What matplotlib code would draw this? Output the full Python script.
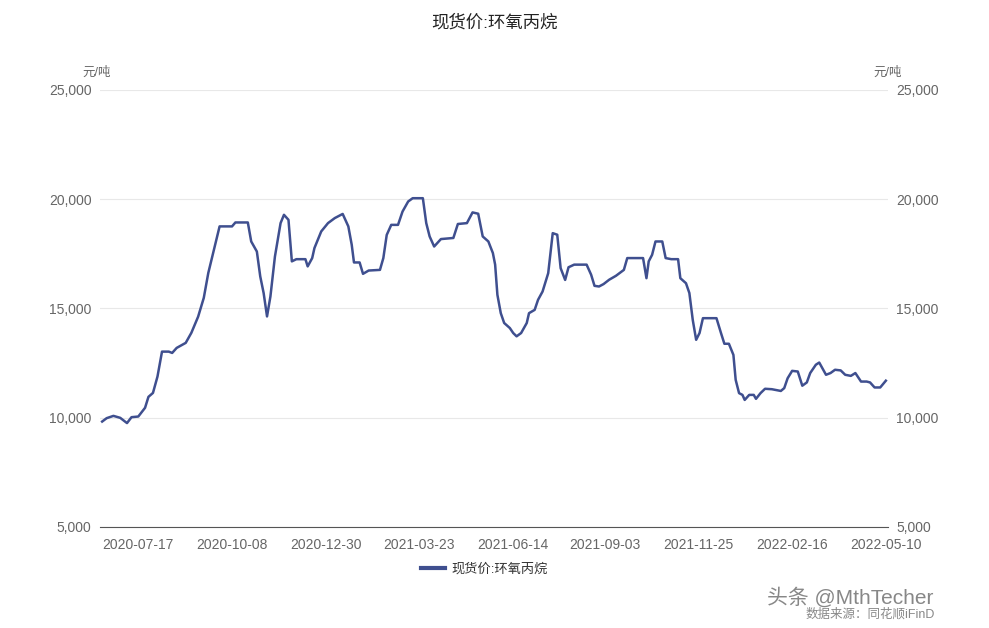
import matplotlib
matplotlib.use("Agg")
import matplotlib.pyplot as plt
import numpy as np

plt.rcParams['font.family'] = ['Liberation Sans', 'Noto Sans CJK SC', 'DejaVu Sans']

# days since 2020-07-17
day_offsets = [-32,-28,-22,-16,-10,-6,0,6,9,13,17,21,27,30,34,42,47,53,58,62,67,72,83,86,97,100,105,108,111,114,
               117,121,126,129,133,136,140,148,150,154,156,162,168,174,181,186,189,191,196,199,204,214,217,220,224,
               230,234,239,243,252,255,258,262,268,279,283,291,296,301,305,310,314,316,318,321,324,329,332,335,339,
               344,346,351,354,358,363,367,371,374,378,381,386,397,401,404,408,412,417,423,430,433,447,450,452,455,
               458,464,467,472,478,480,485,488,491,494,497,500,512,516,519,523,527,529,532,535,537,541,545,547,551,
               555,561,569,572,575,579,584,588,592,595,600,603,609,613,617,622,626,631,635,640,645,648,652,657,662]
prices = [9820,9975,10080,9990,9750,10020,10050,10450,10950,11130,11880,13020,13020,12960,13190,13420,13880,14620,15480,16620,
          17680,18750,18750,18930,18930,18060,17600,16460,15700,14630,15540,17370,18900,19280,19050,17150,17250,17250,16920,17300,
          17760,18520,18900,19130,19320,18750,17910,17100,17100,16580,16730,16760,17300,18360,18820,18820,19430,19890,20040,20040,
          18900,18290,17830,18170,18220,18860,18900,19390,19330,18290,18060,17530,17000,15620,14780,14330,14100,13870,13720,13870,
          14330,14780,14930,15390,15770,16610,18440,18370,16840,16300,16880,17000,17000,16540,16030,16000,16110,16310,16490,16760,
          17300,17300,16380,17150,17450,18060,18060,17300,17250,17250,16380,16150,15700,14470,13560,13870,14550,14550,13870,13380,
          13380,12870,11730,11120,11040,10810,11040,11040,10860,11120,11320,11300,11220,11350,11800,12140,12110,11460,11610,12040,
          12420,12520,11960,12040,12190,12160,11960,11910,12040,11650,11650,11610,11380,11380,11690]
tick_offsets = [0, 83, 166, 249, 332, 413, 496, 579, 662]
tick_labels = ['2020-07-17','2020-10-08','2020-12-30','2021-03-23','2021-06-14','2021-09-03','2021-11-25','2022-02-16','2022-05-10']
y_ticks = [5000, 10000, 15000, 20000, 25000]
series_name = '现货价:环氧丙烷'

fig = plt.figure(figsize=(9.89, 6.28), dpi=100)
ax = fig.add_axes([0.101, 0.161, 0.797, 0.696])
color = '#3f4f8f'
ax.plot(day_offsets, prices, color=color, lw=1.8, label=series_name)
ax.set_xlim(-34, 664)
ax.set_ylim(5000, 25000)
ax.set_yticks(y_ticks)
ax.set_yticklabels([f'{v:,}' for v in y_ticks])
ax.set_xticks(tick_offsets)
ax.set_xticklabels(tick_labels)
ax.grid(axis='y', color='#e8e8e8', lw=0.8)
for s in ['left', 'right', 'top']:
    ax.spines[s].set_visible(False)
ax.spines['bottom'].set_color('#555555')
ax.tick_params(axis='both', length=0, colors='#666666', labelsize=10)
ax.tick_params(axis='x', pad=8)
ax.tick_params(axis='y', pad=6)
ax2 = ax.twinx()
ax2.set_ylim(5000, 25000)
ax2.set_yticks(y_ticks)
ax2.set_yticklabels([f'{v:,}' for v in y_ticks])
for s in ax2.spines.values():
    s.set_visible(False)
ax2.tick_params(axis='y', length=0, colors='#666666', labelsize=10, pad=6)

fig.text(0.5, 0.965, series_name, ha='center', va='center', fontsize=12.5, color='#222222')
fig.text(0.098, 0.884, '元/吨', ha='center', va='center', fontsize=9, color='#666666')
fig.text(0.898, 0.884, '元/吨', ha='center', va='center', fontsize=9, color='#666666')
leg = fig.legend(loc='center', bbox_to_anchor=(0.49, 0.093), frameon=False, fontsize=9.5,
                 handlelength=1.8, handletextpad=0.5)
for t in leg.get_texts():
    t.set_color('#333333')
leg.get_lines()[0].set_linewidth(3)
fig.text(0.88, 0.022, '数据来源：同花顺iFinD', ha='center', va='center', fontsize=9, color='#888888')
fig.text(0.86, 0.048, '头条 @MthTecher', ha='center', va='center', fontsize=15, color='#555555', alpha=0.7)
fig.savefig('out.png', dpi=100)
